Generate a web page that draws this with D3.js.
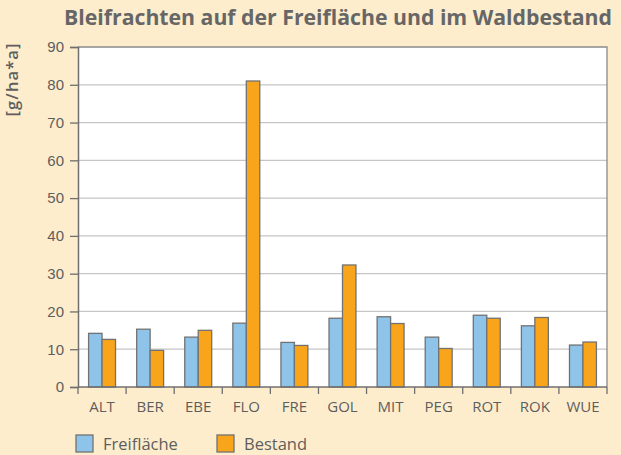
<!DOCTYPE html>
<html>
<head>
<meta charset="utf-8">
<script src="https://cdn.jsdelivr.net/npm/d3@7"></script>
<style>
  body { margin: 0; background: #fdedcc; }
  svg { display: block; font-family: "Open Sans", "Noto Sans", sans-serif; }
</style>
</head>
<body>
<svg id="chart"></svg>
<script>
// Site codes and values [g/ha*a]
const categories = ["ALT", "BER", "EBE", "FLO", "FRE", "GOL", "MIT", "PEG", "ROT", "ROK", "WUE"];
const freiflaeche = [14.2, 15.3, 13.2, 16.9, 11.8, 18.2, 18.6, 13.2, 19.0, 16.2, 11.1];
const bestand = [12.6, 9.7, 15.0, 81.0, 11.0, 32.3, 16.8, 10.2, 18.2, 18.4, 11.9];
const yTicks = [0, 10, 20, 30, 40, 50, 60, 70, 80, 90];
const seriesNames = ["Freifläche", "Bestand"];
const colors = ["#8fc4ea", "#f8a51b"];

const width = 621, height = 455;
const margin = { left: 78, right: 14, top: 47, bottom: 68 };

const svg = d3.select("#chart").attr("width", width).attr("height", height);

svg.append("rect").attr("width", width).attr("height", height).attr("fill", "#fdedcc");

const x = d3.scaleBand()
    .domain(categories)
    .range([margin.left, width - margin.right])
    .paddingInner(0.44)
    .paddingOuter(0.22);

const xSub = d3.scaleBand().domain([0, 1]).range([0, x.bandwidth()]);

const y = d3.scaleLinear().domain([0, 90]).range([height - margin.bottom, margin.top]);

// plot background
svg.append("rect")
    .attr("x", margin.left)
    .attr("y", margin.top)
    .attr("width", width - margin.left - margin.right)
    .attr("height", y(0) - margin.top)
    .attr("fill", "#fff");

// gridlines
svg.append("g")
    .selectAll("line")
    .data(yTicks.filter(d => d > 0 && d < 90))
    .join("line")
    .attr("x1", margin.left)
    .attr("x2", width - margin.right)
    .attr("y1", d => y(d))
    .attr("y2", d => y(d))
    .attr("stroke", "#c6c6c6")
    .attr("stroke-width", 1.3);

// bars
const data = categories.map((c, i) => ({ cat: c, values: [freiflaeche[i], bestand[i]] }));

svg.append("g")
    .selectAll("g")
    .data(data)
    .join("g")
    .attr("transform", d => `translate(${x(d.cat)},0)`)
    .selectAll("rect")
    .data(d => d.values.map((v, k) => ({ k, v })))
    .join("rect")
    .attr("x", d => xSub(d.k))
    .attr("y", d => y(d.v))
    .attr("width", xSub.bandwidth())
    .attr("height", d => y(0) - y(d.v))
    .attr("fill", d => colors[d.k])
    .attr("stroke", "#727272")
    .attr("stroke-width", 1.3);

// plot frame (top, right)
svg.append("path")
    .attr("d", `M${margin.left},${margin.top}H${width - margin.right}V${y(0)}`)
    .attr("fill", "none")
    .attr("stroke", "#8a8a8a")
    .attr("stroke-width", 1.3);

// y axis
const yAxis = svg.append("g")
    .attr("transform", `translate(${margin.left},0)`)
    .call(d3.axisLeft(y).tickValues(yTicks).tickSize(8).tickPadding(6));
yAxis.select(".domain").attr("stroke", "#6f6f6f").attr("stroke-width", 1.5);
yAxis.selectAll(".tick line").attr("stroke", "#6f6f6f").attr("stroke-width", 1.3);
yAxis.selectAll("text").attr("fill", "#5e5e5e").attr("font-size", 15);

// x axis with ticks at band boundaries
const xAxisG = svg.append("g").attr("transform", `translate(0,${y(0)})`);
xAxisG.append("line")
    .attr("x1", margin.left).attr("x2", width - margin.right)
    .attr("stroke", "#6f6f6f").attr("stroke-width", 1.5);
const step = x.step();
const boundaries = categories.map(c => x(c) - x.paddingOuter() * step).concat([width - margin.right]);
xAxisG.selectAll(".bt")
    .data(boundaries)
    .join("line")
    .attr("x1", d => d).attr("x2", d => d)
    .attr("y1", 0).attr("y2", 7)
    .attr("stroke", "#6f6f6f").attr("stroke-width", 1.3);
xAxisG.selectAll("text")
    .data(categories)
    .join("text")
    .attr("x", d => x(d) + x.bandwidth() / 2)
    .attr("y", 25)
    .attr("text-anchor", "middle")
    .attr("fill", "#5e5e5e")
    .attr("font-size", 15)
    .text(d => d);

// title
svg.append("text")
    .attr("x", 338)
    .attr("y", 25)
    .attr("text-anchor", "middle")
    .attr("fill", "#666")
    .attr("font-weight", "bold")
    .attr("font-size", 20.5)
    .attr("textLength", 548)
    .attr("lengthAdjust", "spacingAndGlyphs")
    .text("Bleifrachten auf der Freifläche und im Waldbestand");

// y label
svg.append("text")
    .attr("transform", "translate(18,80) rotate(-90)")
    .attr("text-anchor", "middle")
    .attr("fill", "#5e5e5e")
    .attr("font-weight", 600)
    .attr("font-size", 16.5)
    .attr("textLength", 73)
    .attr("lengthAdjust", "spacing")
    .text("[g/ha*a]");

// legend
const legendX = [76, 217];
const legend = svg.append("g")
    .selectAll("g")
    .data(seriesNames)
    .join("g")
    .attr("transform", (d, i) => `translate(${legendX[i]},435)`);
legend.append("rect")
    .attr("width", 17).attr("height", 17)
    .attr("fill", (d, i) => colors[i])
    .attr("stroke", "#727272").attr("stroke-width", 1.3);
legend.append("text")
    .attr("x", 27).attr("y", 15)
    .attr("fill", "#5e5e5e")
    .attr("font-size", 16.5)
    .text(d => d);
</script>
</body>
</html>
